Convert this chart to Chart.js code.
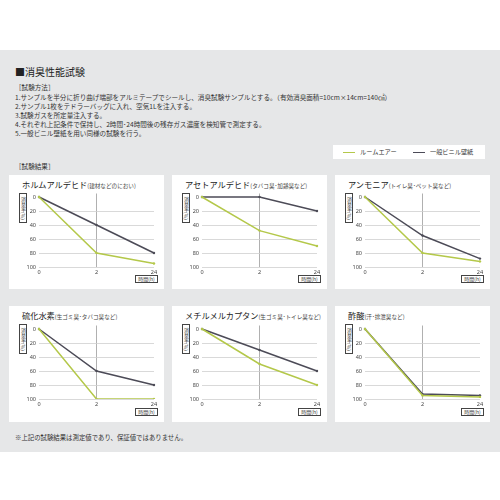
<!DOCTYPE html>
<html lang="ja">
<head>
<meta charset="utf-8">
<script src="https://cdn.jsdelivr.net/npm/chart.js@4/dist/chart.umd.min.js"></script>
<style>
  html, body { margin: 0; padding: 0; background: #fff; }
  body { width: 500px; height: 500px; position: relative; overflow: hidden;
         font-family: "Noto Sans CJK JP", "Noto Sans", sans-serif; color: #333; }
  #bg { position: absolute; left: 0; top: 50px; width: 500px; height: 402px; background: #e6e7e8; }
  .t { position: absolute; white-space: nowrap; line-height: 1; }
  .panel { position: absolute; background: #fff; width: 155px; }
  .panel canvas { position: absolute; }
  .ptitle { position: absolute; left: 13px; top: 5px; white-space: nowrap; font-size: 8.2px; line-height: 1; color: #222; }
  .ptitle small { font-size: 5.6px; color: #444; }
  .ybox { position: absolute; left: 10px; top: 18px; width: 6px; height: 28px; border: 0.8px solid #444;
          writing-mode: vertical-rl; font-size: 5px; line-height: 6px; text-align: center; color: #333; }
  .xbox { position: absolute; left: 126px; width: 21px; height: 6px; border: 0.8px solid #444;
          font-size: 5px; line-height: 6px; text-align: center; color: #333; }
  #legend { position: absolute; left: 333px; top: 145px; width: 152px; height: 14px; background: #fff; }
  .sw { position: absolute; top: 6.5px; width: 12px; height: 1.2px; }
</style>
</head>
<body>
<div id="bg"></div>
<div class="t" style="left:15px;top:67px;font-size:10px;color:#222">■消臭性能試験</div>
<div class="t" style="left:15px;top:84px;font-size:6.6px">［試験方法］</div>
<div class="t" style="left:15px;top:94px;font-size:6.6px">1.サンプルを半分に折り曲げ端部をアルミテープでシールし、消臭試験サンプルとする。（有効消臭面積=10cm×14cm=140㎠）</div>
<div class="t" style="left:15px;top:103px;font-size:6.6px">2.サンプル1枚をテドラーバッグに入れ、空気1Lを注入する。</div>
<div class="t" style="left:15px;top:112px;font-size:6.6px">3.試験ガスを所定量注入する。</div>
<div class="t" style="left:15px;top:121px;font-size:6.6px">4.それぞれ上記条件で保持し、2時間･24時間後の残存ガス濃度を検知管で測定する。</div>
<div class="t" style="left:15px;top:130px;font-size:6.6px">5.一般ビニル壁紙を用い同様の試験を行う。</div>
<div id="legend">
  <div class="sw" style="left:10px;background:#b4c84a"></div>
  <div class="t" style="left:27px;top:4px;font-size:6.2px">ルームエアー</div>
  <div class="sw" style="left:80px;background:#4c4b57"></div>
  <div class="t" style="left:97px;top:4px;font-size:6.2px">一般ビニル壁紙</div>
</div>
<div class="t" style="left:15px;top:163px;font-size:6.6px">［試験結果］</div>
<div class="t" style="left:15px;top:435px;font-size:6.4px">※上記の試験結果は測定値であり、保証値ではありません。</div>
<div id="panels"></div>
<script>
// 経過時間 (h)
const timeLabels = ['0', '2', '24'];
const yTicks = [0, 20, 40, 60, 80, 100];

const gases = ['ホルムアルデヒド', 'アセトアルデヒド', 'アンモニア', '硫化水素', 'メチルメルカプタン', '酢酸'];
const notes = ['(建材などのにおい)', '(タバコ臭･加齢臭など)', '(トイレ臭･ペット臭など)', '(生ゴミ臭･タバコ臭など)', '(生ゴミ臭･トイレ臭など)', '(汗･排泄臭など)'];

// 消臭率 (%)
const roomAir = [
  [0, 80, 95],
  [0, 48, 70],
  [0, 80, 92],
  [0, 100, 100],
  [0, 50, 80],
  [0, 95, 97]
];
const vinyl = [
  [0, 40, 80],
  [0, 0, 20],
  [0, 55, 88],
  [0, 60, 80],
  [0, 30, 60],
  [0, 93, 95]
];

const GREEN = '#b4c84a', DARK = '#4c4b57';
const lefts = [9, 172, 335], tops = [175, 306], heights = [114, 116];
const wrap = document.getElementById('panels');

gases.forEach((name, i) => {
  const row = Math.floor(i / 3);
  const p = document.createElement('div');
  p.className = 'panel';
  p.style.left = lefts[i % 3] + 'px';
  p.style.top = tops[row] + 'px';
  p.style.height = heights[row] + 'px';
  p.innerHTML = `<div class="ptitle">${name}<small>${notes[i]}</small></div>
    <div class="ybox">消臭率(%)</div>
    <div class="xbox" style="top:${heights[row] - 14}px">時間(h)</div>
    <canvas width="139" height="91" style="left:16px;top:${11 + row * 0.5}px;width:139px;height:91px"></canvas>`;
  wrap.appendChild(p);

  new Chart(p.querySelector('canvas'), {
    type: 'line',
    data: {
      labels: timeLabels,
      datasets: [
        { label: 'ルームエアー', data: roomAir[i], borderColor: GREEN, backgroundColor: GREEN },
        { label: '一般ビニル壁紙', data: vinyl[i], borderColor: DARK, backgroundColor: DARK }
      ]
    },
    options: {
      responsive: false,
      animation: false,
      devicePixelRatio: 1,
      layout: { padding: { top: 7.5, right: 10, bottom: 0, left: 0 } },
      elements: {
        line: { borderWidth: 1.5, tension: 0 },
        point: { radius: 1.2, borderWidth: 0 }
      },
      plugins: { legend: { display: false }, tooltip: { enabled: false } },
      scales: {
        x: {
          offset: false,
          border: { display: false },
          grid: { drawTicks: false, lineWidth: 0.8, color: c => c.index === 1 ? '#9c9c9c' : 'rgba(0,0,0,0)' },
          ticks: { padding: 2, color: '#444', font: { size: 5.5, family: 'Noto Sans' }, maxRotation: 0 },
          afterFit: s => { s.height = 10; }
        },
        y: {
          reverse: true,
          min: -5,
          max: 100,
          border: { display: false },
          afterBuildTicks: s => { s.ticks = yTicks.map(v => ({ value: v })); },
          afterFit: s => { s.width = 14; },
          grid: { drawTicks: false, lineWidth: 0.8, color: c => c.tick && c.tick.value === 0 ? 'rgba(0,0,0,0)' : '#cfcfcf' },
          ticks: { padding: 3, color: '#444', font: { size: 5.5, family: 'Noto Sans' } }
        }
      }
    }
  });
});
</script>
</body>
</html>
